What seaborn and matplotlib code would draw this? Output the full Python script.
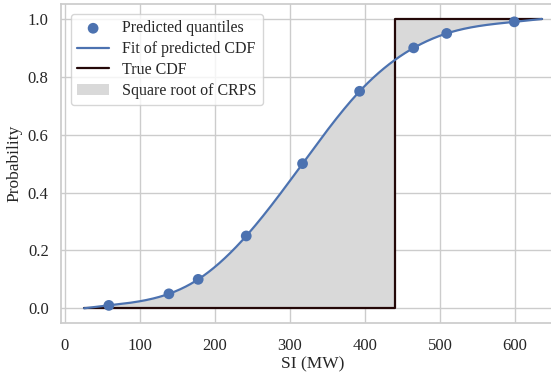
import numpy as np
import pandas as pd
import matplotlib
matplotlib.use("Agg")
import matplotlib.pyplot as plt
import seaborn as sns

# Predicted quantiles of SI (MW)
probs = [0.01, 0.05, 0.10, 0.25, 0.50, 0.75, 0.90, 0.95, 0.99]
quantiles = [59, 139, 178, 242, 317, 393, 465, 509, 599]
# Support bounds of the fitted CDF
support_lo = 26
support_hi = 636
# Observed value
true_si = 440


def cubic_spline(xk, yk, x):
    """Natural cubic spline through the knots (xk, yk)."""
    xk = np.asarray(xk, float)
    yk = np.asarray(yk, float)
    n = len(xk)
    h = np.diff(xk)
    A = np.zeros((n, n))
    b = np.zeros(n)
    A[0, 0] = A[-1, -1] = 1.0
    for i in range(1, n - 1):
        A[i, i - 1] = h[i - 1]
        A[i, i] = 2 * (h[i - 1] + h[i])
        A[i, i + 1] = h[i]
        b[i] = 6 * ((yk[i + 1] - yk[i]) / h[i] - (yk[i] - yk[i - 1]) / h[i - 1])
    m = np.linalg.solve(A, b)
    idx = np.clip(np.searchsorted(xk, x) - 1, 0, n - 2)
    x0, x1 = xk[idx], xk[idx + 1]
    hi = h[idx]
    return (m[idx] * (x1 - x) ** 3 / (6 * hi)
            + m[idx + 1] * (x - x0) ** 3 / (6 * hi)
            + (yk[idx] / hi - m[idx] * hi / 6) * (x1 - x)
            + (yk[idx + 1] / hi - m[idx + 1] * hi / 6) * (x - x0))


knots_x = [support_lo] + quantiles + [support_hi]
knots_y = [0.0] + probs + [1.0]
grid = np.linspace(support_lo, support_hi, 600)
fit = np.clip(cubic_spline(knots_x, knots_y, grid), 0, 1)
true_cdf = (grid >= true_si).astype(float)

fit_df = pd.DataFrame({"SI": grid, "P": fit})
pts_df = pd.DataFrame({"SI": quantiles, "P": probs})
true_df = pd.DataFrame({"SI": [support_lo, true_si, true_si, support_hi],
                        "P": [0.0, 0.0, 1.0, 1.0]})

sns.set_theme(style="whitegrid")
plt.rcParams["font.family"] = ["Liberation Serif", "DejaVu Serif"]

blue = sns.color_palette("deep")[0]
fig = plt.figure(figsize=(5.51, 3.74), dpi=100)
ax = fig.add_axes([0.111, 0.137, 0.913, 0.851])

ax.fill_between(grid, fit, true_cdf, color="#d9d9d9", lw=0,
                label="Square root of CRPS", zorder=1)
sns.lineplot(data=true_df, x="SI", y="P", color="#240808", lw=1.6,
             sort=False, estimator=None, ax=ax, label="True CDF", zorder=2)
sns.lineplot(data=fit_df, x="SI", y="P", color=blue, lw=1.6,
             estimator=None, ax=ax, label="Fit of predicted CDF", zorder=3)
sns.scatterplot(data=pts_df, x="SI", y="P", color=blue, s=60,
                edgecolor="none", ax=ax, label="Predicted quantiles", zorder=4)

ax.set_xlim(-4.5, 665.5)
ax.set_ylim(-0.05, 1.05)
ax.set_xticks([0, 100, 200, 300, 400, 500, 600])
ax.set_yticks([0.0, 0.2, 0.4, 0.6, 0.8, 1.0])
ax.set_xlabel("SI (MW)", fontsize=12.5, labelpad=2)
ax.set_ylabel("Probability", fontsize=12.5, labelpad=4)
ax.tick_params(axis="x", labelsize=12, pad=5)
ax.tick_params(axis="y", labelsize=12, pad=3)

handles, labels = ax.get_legend_handles_labels()
order = ["Predicted quantiles", "Fit of predicted CDF", "True CDF",
         "Square root of CRPS"]
hmap = dict(zip(labels, handles))
ax.legend([hmap[k] for k in order], order, loc="upper left",
          fontsize=11.5, labelspacing=0.3, borderaxespad=0.6)

fig.savefig("out.png", dpi=100)
